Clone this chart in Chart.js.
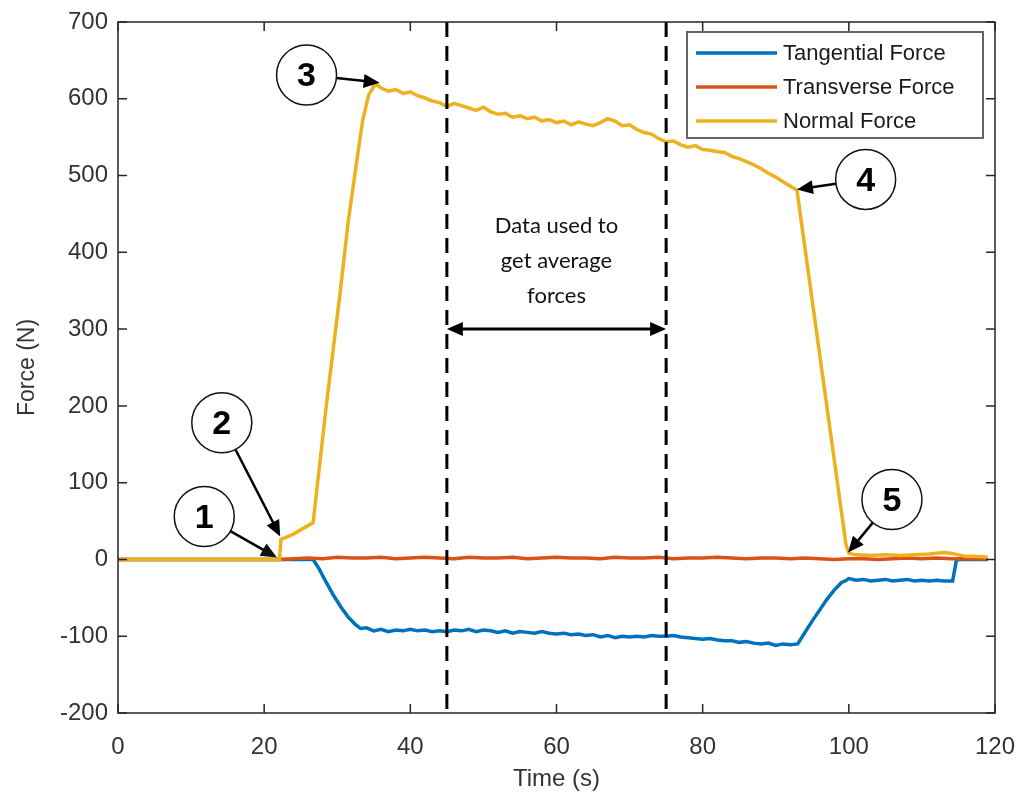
<!DOCTYPE html>
<html>
<head>
<meta charset="utf-8">
<script src="https://cdn.jsdelivr.net/npm/chart.js@4.4.0/dist/chart.umd.min.js"></script>
<style>
  html, body { margin: 0; padding: 0; background: #fff; }
</style>
</head>
<body>
<canvas id="chart" width="1021" height="798"></canvas>
<script>
// force traces, time in s, force in N
var normalTime = [0, 5, 10, 15, 20, 22.1, 22.3, 24, 26.7, 28.5, 30.4, 31.5, 32.7, 33.5, 34.3, 35, 35.5,
  36, 37, 38, 39, 40, 41, 42, 43, 44, 45, 46, 47, 48, 49, 50, 51, 52, 53, 54, 55, 56, 57, 58, 59, 60,
  61, 62, 63, 64, 65, 66, 67, 68, 69, 70, 71, 72, 73, 74, 75, 76, 77, 78, 79, 80, 81, 82, 83, 84, 85,
  86, 87, 88, 89, 90, 91, 92, 92.9, 99.6, 100, 101, 103, 105, 107, 109, 111, 113, 114, 115, 116, 117, 119];
var normalForce = [0, 0, 0, 0, 0, 0, 26, 33, 48, 200, 348, 440, 521, 573, 605, 616, 618,
  614, 610, 612, 607, 609, 604, 601, 597, 595, 590, 594, 591, 588, 585, 589, 583, 580, 581, 576, 578,
  574, 576, 571, 573, 569, 571, 566, 570, 567, 565, 569, 574, 571, 565, 566, 560, 556, 554, 548, 544,
  545, 540, 537, 539, 534, 533, 531, 530, 525, 522, 518, 514, 509, 503, 498, 492, 486, 481, 20, 8,
  6, 5, 6, 5, 6, 7, 9, 8, 6, 4, 4, 3];

var tangTime = [0, 26.7, 27.5, 28.5, 29.5, 30.5, 31.5, 32.5, 33.2,
  34, 35, 36, 37, 38, 39, 40, 41, 42, 43, 44, 45, 46, 47, 48, 49, 50, 51, 52, 53, 54, 55, 56, 57, 58,
  59, 60, 61, 62, 63, 64, 65, 66, 67, 68, 69, 70, 71, 72, 73, 74, 75, 76, 77, 78, 79, 80, 81, 82, 83,
  84, 85, 86, 87, 88, 89, 90, 91, 92, 93, 94, 95, 96, 97, 98, 99, 99.5,
  100, 101, 102, 103, 104, 105, 106, 107, 108, 109, 110, 111, 112, 113, 114.2, 114.7, 115, 119];
var tangForce = [0, 0, -12, -30, -47, -62, -75, -85, -90,
  -89, -93, -91, -94, -92, -93, -91, -93, -92, -94, -93, -94, -92, -93, -91, -94, -92, -93, -95, -93,
  -96, -94, -95, -96, -94, -96, -97, -96, -98, -97, -99, -98, -101, -99, -102, -100, -101, -100, -101, -99,
  -100, -100, -99, -101, -102, -103, -104, -103, -105, -106, -106, -108, -107, -109, -110, -109, -112, -110, -111, -110,
  -95, -80, -66, -52, -40, -30, -28,
  -25, -27, -26, -28, -27, -26, -28, -27, -26, -28, -27, -28, -27, -28, -28, -2, 0, 0];

var transTime = [0, 22, 24, 26, 28, 30, 32, 34, 36, 38, 40, 42, 44, 46, 48, 50, 52, 54, 56, 58, 60,
  62, 64, 66, 68, 70, 72, 74, 76, 78, 80, 82, 84, 86, 88, 90, 92, 94, 96, 98, 100, 102, 104, 106, 108,
  110, 112, 114, 116, 119];
var transForce = [0, 0, 1, 2, 1, 3, 2, 2, 3, 1, 2, 3, 2, 1, 3, 2, 2, 3, 1, 2, 3,
  2, 2, 1, 3, 2, 2, 3, 1, 2, 2, 3, 2, 1, 2, 2, 1, 2, 1, 0, 1,
  1, 0, 1, 2, 1, 2, 1, 1, 1];

var seriesNames = ["Tangential Force", "Transverse Force", "Normal Force"];
var seriesColors = ["#0072BD", "#D95319", "#EDB120"];
var xTicks = [0, 20, 40, 60, 80, 100, 120];
var yTicks = [-200, -100, 0, 100, 200, 300, 400, 500, 600, 700];

// averaging window and numbered markers (center, arrow tip) in data units
var windowStart = 45, windowEnd = 75, windowArrowY = 300;
var windowText = ["Data used to", "get average", "forces"];
var markers = [
  { label: "1", cx: 11.8, cy: 56, tx: 21.75, ty: 2.6 },
  { label: "2", cx: 14.2, cy: 178, tx: 22.2, ty: 30 },
  { label: "3", cx: 25.8, cy: 631, tx: 35.8, ty: 621 },
  { label: "4", cx: 102.3, cy: 495, tx: 92.9, ty: 482 },
  { label: "5", cx: 105.9, cy: 78, tx: 99.9, ty: 9 }
];

function toPoints(t, v) {
  var pts = [];
  for (var i = 0; i < t.length; i++) pts.push({ x: t[i], y: v[i] });
  return pts;
}

var ink = "#262626";
var tickFont = { family: "Liberation Sans, Arial, sans-serif", size: 24 };

function arrowHead(ctx, x0, y0, x1, y1, len, half) {
  var a = Math.atan2(y1 - y0, x1 - x0);
  var c = Math.cos(a), s = Math.sin(a);
  ctx.beginPath();
  ctx.moveTo(x1, y1);
  ctx.lineTo(x1 - len * c + half * s, y1 - len * s - half * c);
  ctx.lineTo(x1 - len * c - half * s, y1 - len * s + half * c);
  ctx.closePath();
  ctx.fill();
}

function arrow(ctx, x0, y0, x1, y1) {
  var a = Math.atan2(y1 - y0, x1 - x0);
  ctx.beginPath();
  ctx.moveTo(x0, y0);
  ctx.lineTo(x1 - 10 * Math.cos(a), y1 - 10 * Math.sin(a));
  ctx.stroke();
  arrowHead(ctx, x0, y0, x1, y1, 16, 7);
}

var framePlugin = {
  id: "frame",
  afterDatasetsDraw: function (chart) {
    var ctx = chart.ctx;
    var area = chart.chartArea;
    var xs = chart.scales.x, ys = chart.scales.y;
    ctx.save();

    // dashed window lines
    ctx.strokeStyle = "#000";
    ctx.lineWidth = 3;
    ctx.setLineDash([15, 9]);
    [windowStart, windowEnd].forEach(function (v) {
      var px = xs.getPixelForValue(v);
      ctx.beginPath();
      ctx.moveTo(px, area.top);
      ctx.lineTo(px, area.bottom);
      ctx.stroke();
    });
    ctx.setLineDash([]);

    // double arrow across the window
    var ay = ys.getPixelForValue(windowArrowY);
    var ax0 = xs.getPixelForValue(windowStart), ax1 = xs.getPixelForValue(windowEnd);
    ctx.fillStyle = "#000";
    ctx.beginPath();
    ctx.moveTo(ax0 + 10, ay);
    ctx.lineTo(ax1 - 10, ay);
    ctx.stroke();
    arrowHead(ctx, ax1, ay, ax0, ay, 16, 7);
    arrowHead(ctx, ax0, ay, ax1, ay, 16, 7);

    ctx.font = "22px Lato, sans-serif";
    ctx.textAlign = "center";
    ctx.textBaseline = "middle";
    ctx.fillStyle = "#111";
    var mid = (ax0 + ax1) / 2;
    windowText.forEach(function (line, i) {
      ctx.fillText(line, mid, ay - 103 + i * 35);
    });

    // numbered markers
    ctx.lineWidth = 2.5;
    markers.forEach(function (m) {
      var cx = xs.getPixelForValue(m.cx), cy = ys.getPixelForValue(m.cy);
      var tx = xs.getPixelForValue(m.tx), ty = ys.getPixelForValue(m.ty);
      var r = 30;
      var a = Math.atan2(ty - cy, tx - cx);
      arrow(ctx, cx + r * Math.cos(a), cy + r * Math.sin(a), tx, ty);
      ctx.beginPath();
      ctx.arc(cx, cy, r, 0, Math.PI * 2);
      ctx.fillStyle = "#fff";
      ctx.fill();
      ctx.lineWidth = 1.5;
      ctx.strokeStyle = "#111";
      ctx.stroke();
      ctx.lineWidth = 2.5;
      ctx.strokeStyle = "#000";
      ctx.fillStyle = "#000";
      ctx.font = "bold 34px Liberation Sans, Arial, sans-serif";
      ctx.fillText(m.label, cx, cy + 2);
    });

    // axes box with inward ticks
    ctx.strokeStyle = ink;
    ctx.lineWidth = 1.5;
    ctx.strokeRect(area.left, area.top, area.right - area.left, area.bottom - area.top);
    var tl = 9;
    ctx.beginPath();
    xTicks.forEach(function (v) {
      var px = xs.getPixelForValue(v);
      ctx.moveTo(px, area.bottom); ctx.lineTo(px, area.bottom - tl);
      ctx.moveTo(px, area.top); ctx.lineTo(px, area.top + tl);
    });
    yTicks.forEach(function (v) {
      var py = ys.getPixelForValue(v);
      ctx.moveTo(area.left, py); ctx.lineTo(area.left + tl, py);
      ctx.moveTo(area.right, py); ctx.lineTo(area.right - tl, py);
    });
    ctx.stroke();

    // legend box, top right inside the axes
    var bx = area.right - 308, by = area.top + 10, bw = 296, bh = 106;
    ctx.fillStyle = "#fff";
    ctx.fillRect(bx, by, bw, bh);
    ctx.strokeStyle = "#666";
    ctx.lineWidth = 2;
    ctx.strokeRect(bx, by, bw, bh);
    ctx.font = "22px Liberation Sans, Arial, sans-serif";
    ctx.textAlign = "left";
    chart.data.datasets.forEach(function (ds, i) {
      var ly = by + 21 + i * 34;
      ctx.strokeStyle = ds.borderColor;
      ctx.lineWidth = 3.5;
      ctx.beginPath();
      ctx.moveTo(bx + 9, ly);
      ctx.lineTo(bx + 90, ly);
      ctx.stroke();
      ctx.fillStyle = "#1a1a1a";
      ctx.fillText(ds.label, bx + 96, ly + 1);
    });
    ctx.restore();
  }
};

var datasets = [
  { label: seriesNames[0], data: toPoints(tangTime, tangForce), borderColor: seriesColors[0], order: 2 },
  { label: seriesNames[1], data: toPoints(transTime, transForce), borderColor: seriesColors[1], order: 1 },
  { label: seriesNames[2], data: toPoints(normalTime, normalForce), borderColor: seriesColors[2], order: 0 }
];
datasets.forEach(function (d) {
  d.borderWidth = 3.5;
  d.pointRadius = 0;
  d.tension = 0;
  d.fill = false;
});

var context = document.getElementById("chart").getContext("2d");
var chart = new Chart(context, {
  type: "line",
  data: { datasets: datasets },
  options: {
    responsive: false,
    animation: false,
    layout: { padding: { top: 22, right: 26, left: 0, bottom: 0 } },
    plugins: { legend: { display: false }, tooltip: { enabled: false } },
    scales: {
      x: {
        type: "linear",
        min: 0, max: 120,
        afterBuildTicks: function (s) { s.ticks = xTicks.map(function (v) { return { value: v }; }); },
        afterFit: function (s) { s.height = 85; s.paddingLeft = 0; s.paddingRight = 0; },
        grid: { display: false, drawTicks: false },
        border: { display: false },
        ticks: { color: "#333", font: tickFont, padding: 20, maxRotation: 0 },
        title: { display: true, text: "Time (s)", color: "#333", font: { family: "Liberation Sans, Arial, sans-serif", size: 24 }, padding: { top: 0, bottom: 4 } }
      },
      y: {
        min: -200, max: 700,
        afterBuildTicks: function (s) { s.ticks = yTicks.map(function (v) { return { value: v }; }); },
        afterFit: function (s) { s.width = 118; s.paddingTop = 0; s.paddingBottom = 0; },
        grid: { display: false, drawTicks: false },
        border: { display: false },
        ticks: { color: "#333", font: tickFont, padding: 10 },
        title: { display: true, text: "Force (N)", color: "#333", font: { family: "Liberation Sans, Arial, sans-serif", size: 23 }, padding: { top: 14, bottom: 0 } }
      }
    }
  },
  plugins: [framePlugin]
});
</script>
</body>
</html>
